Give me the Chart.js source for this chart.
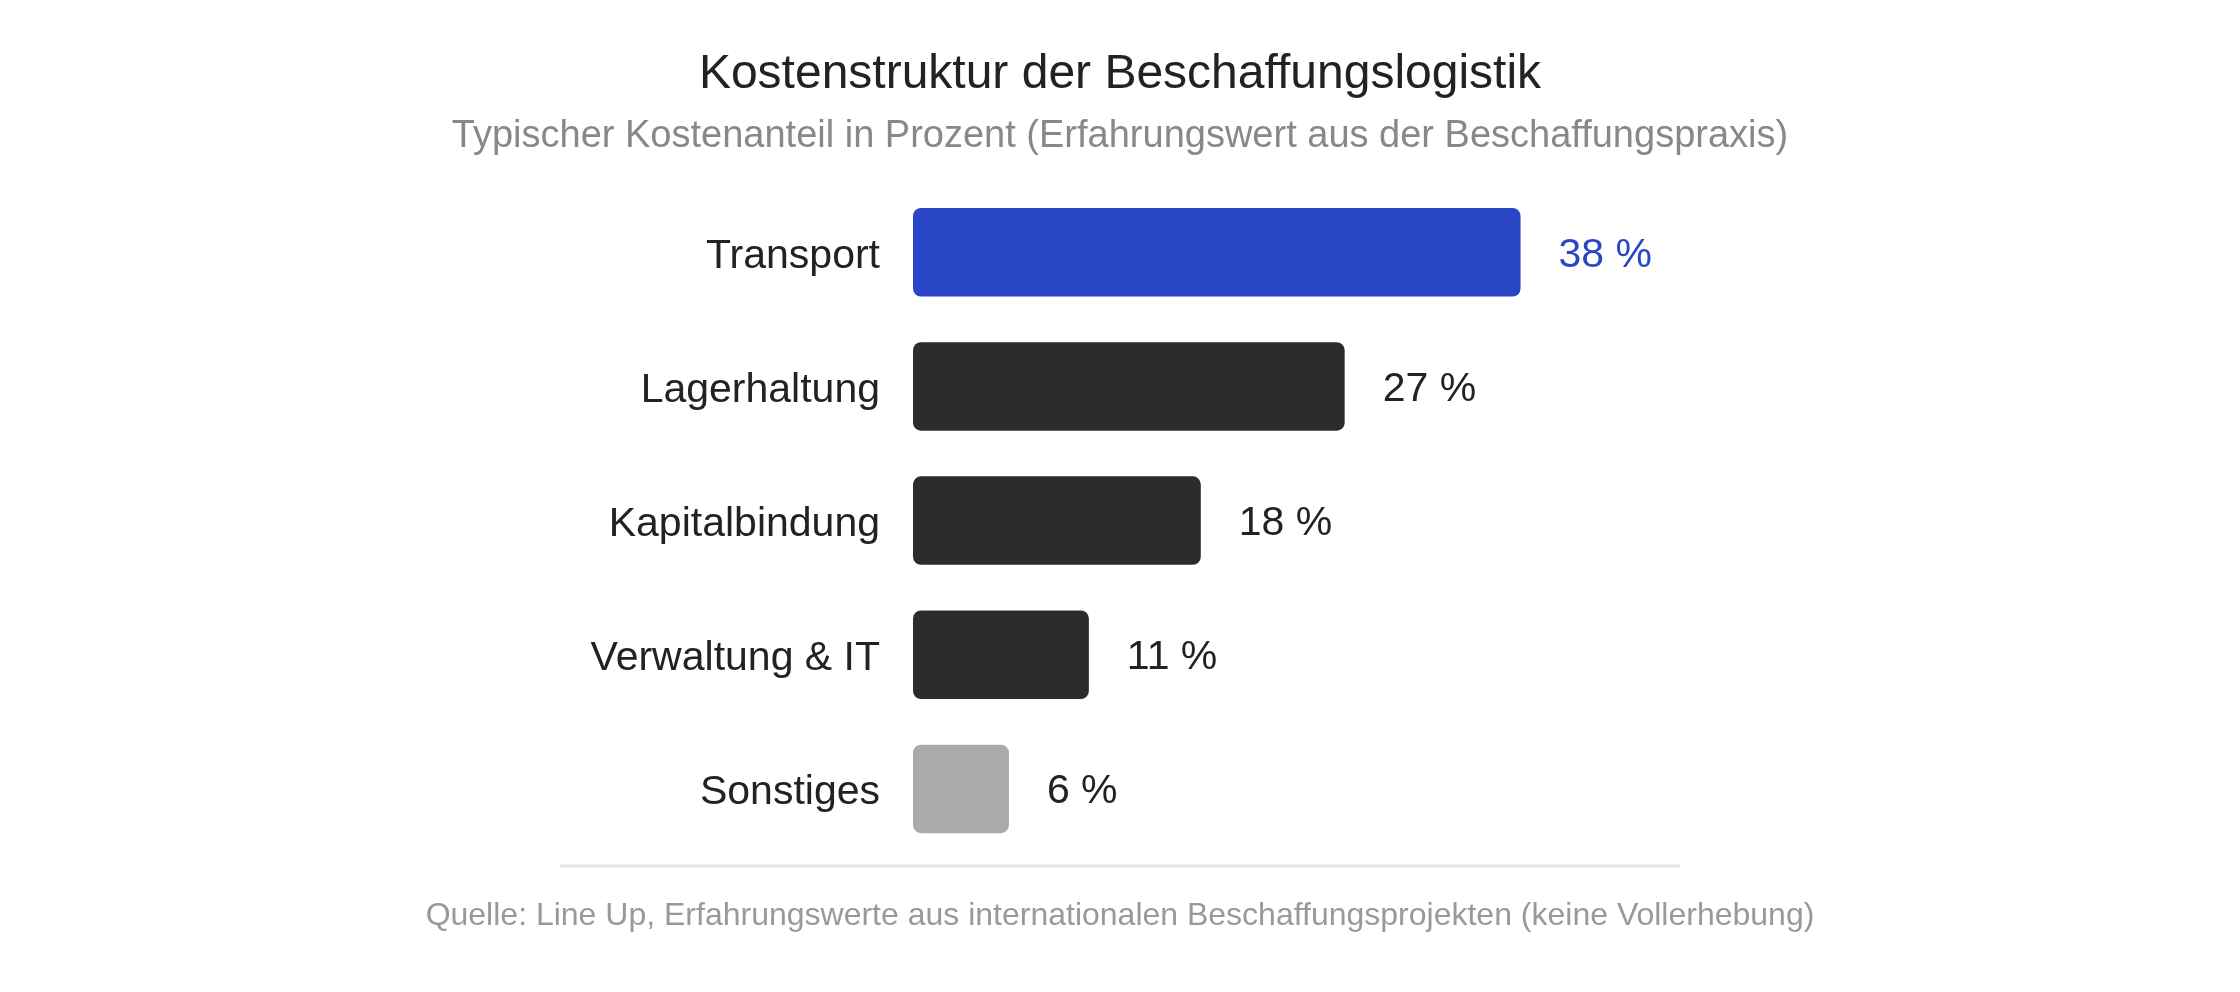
<!DOCTYPE html>
<html lang="de">
<head>
<meta charset="utf-8">
<title>Kostenstruktur der Beschaffungslogistik</title>
<script src="https://cdn.jsdelivr.net/npm/chart.js@4/dist/chart.umd.min.js"></script>
<style>
  html, body { margin: 0; padding: 0; background: #fff; }
  canvas { display: block; }
</style>
</head>
<body>
<canvas id="kosten" width="2240" height="992"></canvas>
<script>
// Daten
const categories = ['Transport', 'Lagerhaltung', 'Kapitalbindung', 'Verwaltung & IT', 'Sonstiges'];
const shares = [38, 27, 18, 11, 6];
const xRange = [0, 83];

const titleText = 'Kostenstruktur der Beschaffungslogistik';
const subtitleText = 'Typischer Kostenanteil in Prozent (Erfahrungswert aus der Beschaffungspraxis)';
const sourceText = 'Quelle: Line Up, Erfahrungswerte aus internationalen Beschaffungsprojekten (keine Vollerhebung)';

const FONT = '"Liberation Sans", Arial, Helvetica, sans-serif';
const BLUE = '#2946c6';
const DARK = '#2c2c2e';
const GREY = '#aaaaaa';
const barColors = categories.map((c, i) => i === 0 ? BLUE : (i === categories.length - 1 ? GREY : DARK));

// Werte rechts neben den Balken + Quellenzeile
const valueLabels = {
    id: 'valueLabels',
    afterDatasetsDraw(chart) {
        const ctx = chart.ctx;
        const meta = chart.getDatasetMeta(0);
        ctx.save();
        ctx.font = '41px ' + FONT;
        ctx.textAlign = 'left';
        ctx.textBaseline = 'middle';
        meta.data.forEach((bar, i) => {
            ctx.fillStyle = i === 0 ? BLUE : '#222222';
            ctx.fillText(shares[i] + ' %', bar.x + 38, bar.y + 3);
        });
        ctx.restore();
    },
    afterDraw(chart) {
        const ctx = chart.ctx;
        ctx.save();
        ctx.strokeStyle = '#e4e4e4';
        ctx.lineWidth = 3;
        ctx.beginPath();
        ctx.moveTo(560, 866);
        ctx.lineTo(1680, 866);
        ctx.stroke();
        ctx.font = '32px ' + FONT;
        ctx.fillStyle = '#999999';
        ctx.textAlign = 'center';
        ctx.textBaseline = 'middle';
        ctx.fillText(sourceText, 1120, 916);
        ctx.restore();
    }
};

const ctx = document.getElementById('kosten').getContext('2d');
const chart = new Chart(ctx, {
    type: 'bar',
    data: {
        labels: categories,
        datasets: [{
            data: shares,
            backgroundColor: barColors,
            borderRadius: 8,
            borderSkipped: false,
            barPercentage: 0.66,
            categoryPercentage: 1
        }]
    },
    options: {
        indexAxis: 'y',
        responsive: false,
        animation: false,
        layout: {
            padding: { top: 0, right: 0, bottom: 136, left: 0 }
        },
        plugins: {
            legend: { display: false },
            tooltip: { enabled: false },
            title: {
                display: true,
                text: titleText,
                color: '#222222',
                font: { family: FONT, size: 48, weight: 'normal', lineHeight: 1.2 },
                padding: { top: 46, bottom: 10 }
            },
            subtitle: {
                display: true,
                text: subtitleText,
                color: '#888888',
                font: { family: FONT, size: 38, weight: 'normal', lineHeight: 1.2 },
                padding: { top: 0, bottom: 26 }
            }
        },
        scales: {
            x: {
                display: false,
                min: xRange[0],
                max: xRange[1]
            },
            y: {
                afterFit(scale) { scale.width = 913; },
                grid: { display: false, drawTicks: false },
                border: { display: false },
                ticks: {
                    color: '#222222',
                    padding: 33,
                    labelOffset: 4,
                    font: { family: FONT, size: 41 }
                }
            }
        }
    },
    plugins: [valueLabels]
});
</script>
</body>
</html>
